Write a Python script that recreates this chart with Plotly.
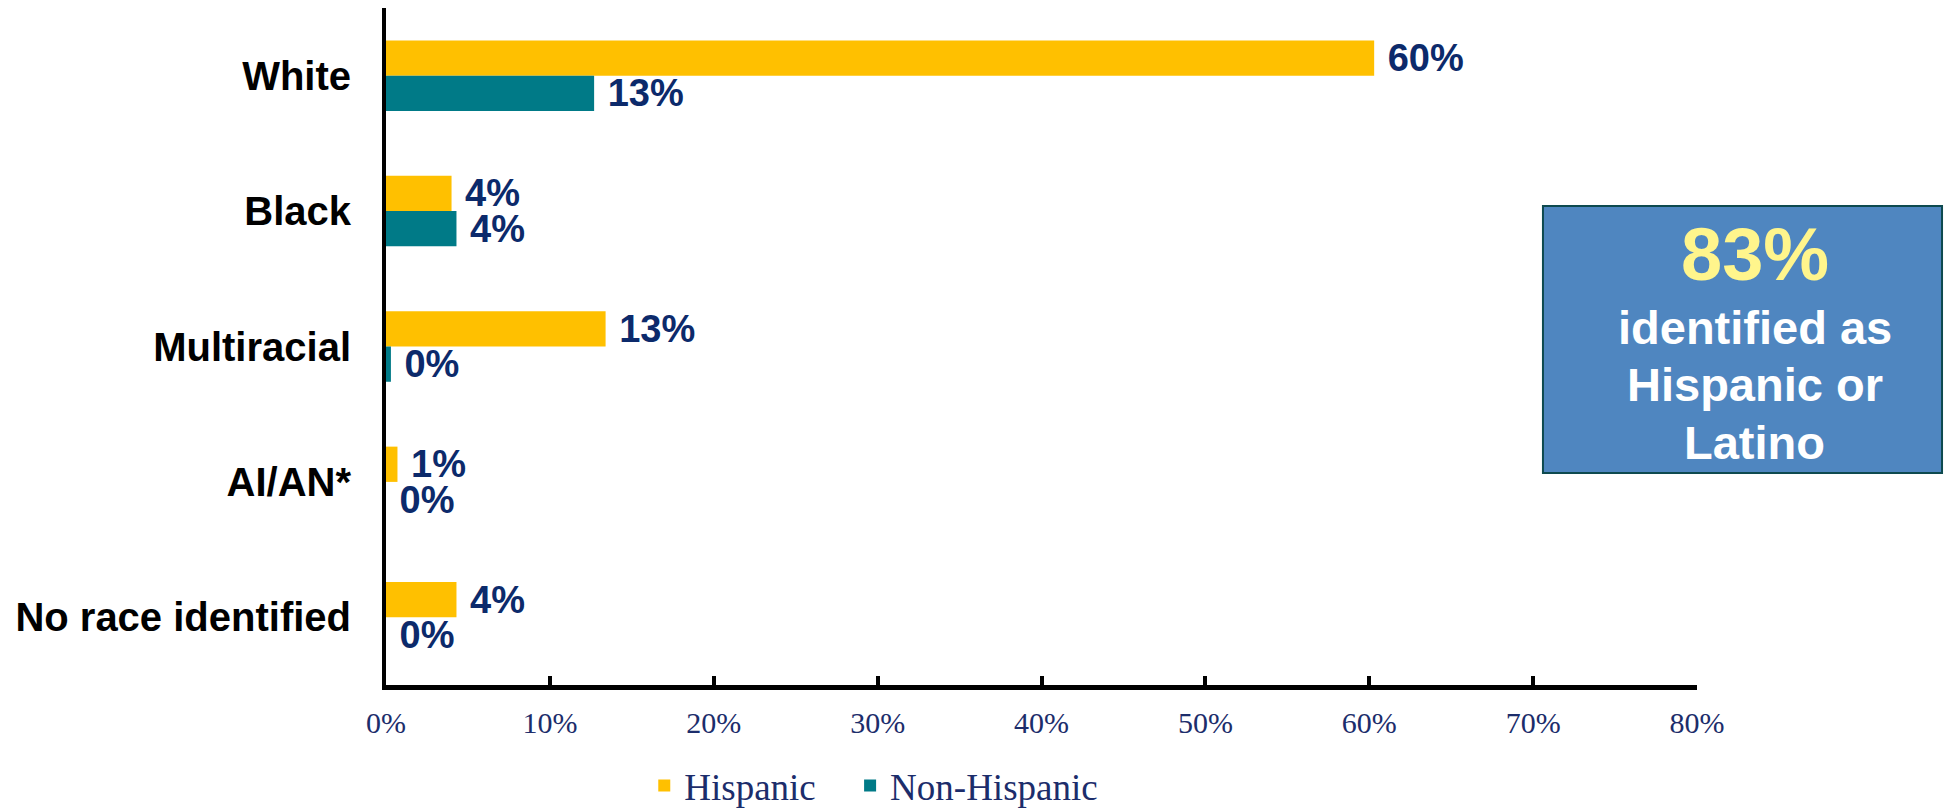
import plotly.graph_objects as go

# Race categories, top to bottom
categories = ["White", "Black", "Multiracial", "AI/AN*", "No race identified"]

# Percent of respondents in each category
hispanic = [60.3, 4.0, 13.4, 0.7, 4.3]
non_hispanic = [12.7, 4.3, 0.3, 0.0, 0.0]

x_ticks = [0, 10, 20, 30, 40, 50, 60, 70, 80]
x_tick_labels = ["0%", "10%", "20%", "30%", "40%", "50%", "60%", "70%", "80%"]

callout_value = "83%"
callout_lines = ["identified as", "Hispanic or", "Latino"]

YELLOW = "#FFC000"
TEAL = "#007A87"
NAVY = "#0C2A6B"
TICK_NAVY = "#1C2D6B"
SANS = "Arial, Liberation Sans, sans-serif"
SERIF = "Garamond, Liberation Serif, serif"

W, H = 1944, 810
M_L, M_R, M_T, M_B = 386, 247, 8, 125

series = [("Hispanic", hispanic, YELLOW, "legend"),
          ("Non-Hispanic", non_hispanic, TEAL, "legend2")]

fig = go.Figure()
for name, vals, color, leg in series:
    fig.add_trace(go.Bar(
        name=name,
        y=categories,
        x=vals,
        orientation="h",
        legend=leg,
        marker=dict(color=color, line=dict(width=0)),
        texttemplate="\u00a0%{x:.0f}%",
        textposition="outside",
        constraintext="none",
        cliponaxis=False,
        textfont=dict(family=SANS, size=38, color=NAVY, weight="bold"),
        hoverinfo="skip",
    ))

legend_style = dict(
    orientation="h",
    xanchor="left",
    y=-0.149, yanchor="middle",
    font=dict(family=SERIF, size=37, color=TICK_NAVY),
    bgcolor="rgba(0,0,0,0)",
)

fig.update_layout(
    width=W, height=H,
    margin=dict(l=M_L, r=M_R, t=M_T, b=M_B, pad=0, autoexpand=False),
    paper_bgcolor="white",
    plot_bgcolor="white",
    barmode="group",
    bargap=0.479,
    bargroupgap=0,
    showlegend=True,
    legend=dict(x=0.197, **legend_style),
    legend2=dict(x=0.354, **legend_style),
    xaxis=dict(
        range=[0, 80],
        tickvals=x_ticks,
        ticktext=x_tick_labels,
        ticks="inside",
        ticklen=9,
        tickwidth=4,
        tickcolor="black",
        showline=True,
        linecolor="black",
        linewidth=5,
        showgrid=False,
        zeroline=False,
        ticklabelstandoff=7,
        tickfont=dict(family=SERIF, size=30, color=TICK_NAVY),
        fixedrange=True,
    ),
    yaxis=dict(
        categoryorder="array",
        categoryarray=categories,
        autorange="reversed",
        showline=True,
        linecolor="black",
        linewidth=4,
        ticks="",
        showgrid=False,
        zeroline=False,
        ticklabelstandoff=23,
        tickfont=dict(family=SANS, size=40, color="black", weight="bold"),
        fixedrange=True,
    ),
)

# Summary callout box on the right
fig.add_shape(
    type="rect", xref="paper", yref="paper",
    x0=0.8825, x1=1.1869, y0=0.3131, y1=0.7075,
    fillcolor="#4F86C0",
    line=dict(color="#0E4A4F", width=2),
    layer="above",
)
fig.add_annotation(
    xref="paper", yref="paper", x=1.0442, y=0.6366,
    text=f"<b>{callout_value}</b>", showarrow=False,
    xanchor="center", yanchor="middle",
    font=dict(family=SANS, size=74, color="#FFF58C"),
)
for line, ypos in zip(callout_lines, [0.5281, 0.4446, 0.3582]):
    fig.add_annotation(
        xref="paper", yref="paper", x=1.0442, y=ypos,
        text=f"<b>{line}</b>", showarrow=False,
        xanchor="center", yanchor="middle",
        font=dict(family=SANS, size=47, color="white"),
    )

fig.write_html("out.html")
